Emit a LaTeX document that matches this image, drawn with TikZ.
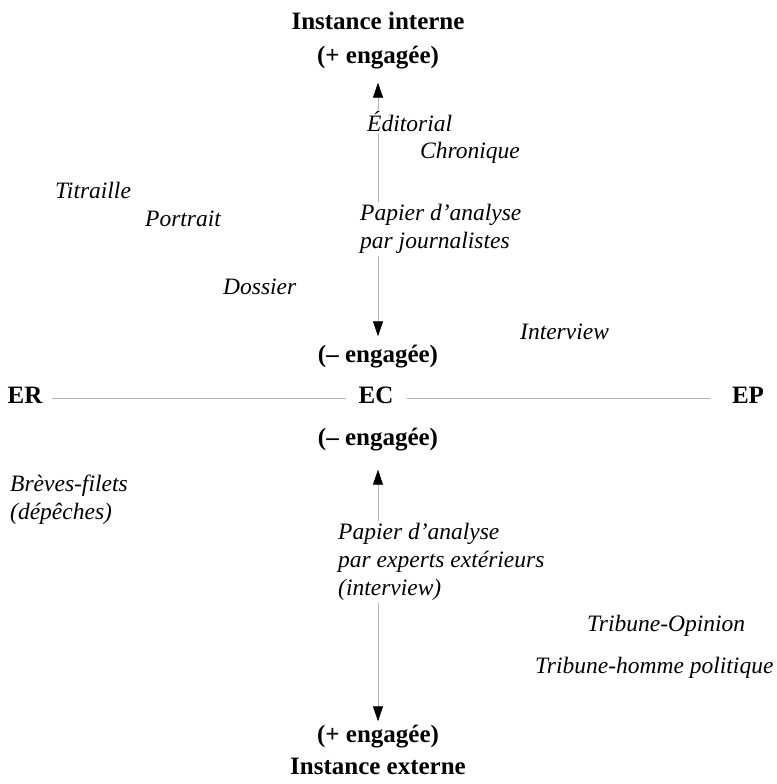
\documentclass[tikz,border=0pt]{standalone}
\usepackage{fontspec}
\setmainfont{Liberation Serif}
\usetikzlibrary{arrows.meta}

\tikzset{
  pole/.style={font=\fontsize{25}{28}\selectfont\bfseries, inner sep=0pt,
               text height=17pt, text depth=6pt},
  genre/.style={font=\fontsize{23.5}{28}\selectfont\itshape, anchor=west,
                align=left, fill=white, inner xsep=0pt, inner ysep=2pt},
  axis/.style={draw=gray!60, line width=0.7pt},
  tip/.style={axis, {Triangle[length=15pt,width=10pt,color=black]}-{Triangle[length=15pt,width=10pt,color=black]}}
}

\begin{document}
\begin{tikzpicture}[x=1pt, y=-1pt]
\useasboundingbox (0,0) rectangle (776,784);

% poles of the vertical axis
\node[pole] (int)  at (378,24)  {Instance interne};
\node[pole] (pe1)  at (378,58)  {(+ engagée)};
\node[pole] (me1)  at (378,357) {(– engagée)};
\node[pole] (me2)  at (378,440) {(– engagée)};
\node[pole] (pe2)  at (378,737) {(+ engagée)};
\node[pole] (ext)  at (378,769) {Instance externe};

% poles of the horizontal axis
\node[pole] (ER) at (25,398)  {ER};
\node[pole] (EC) at (376,398) {EC};
\node[pole] (EP) at (748,398) {EP};

% axes
\draw[axis, shorten <=9pt, shorten >=12pt] (ER) -- (EC);
\draw[axis, shorten <=13pt, shorten >=22pt] (EC) -- (EP);
\draw[tip, shorten <=13pt, shorten >=9pt] (pe1.south) -- (me1.north);
\draw[tip, shorten <=18pt, shorten >=4pt] (me2.south) -- (pe2.north);

% genres
\node[genre] (edito)  at (367,122) {Éditorial};
\node[genre] (chron)  at (420,153) {Chronique};
\node[genre] (titr)   at (55,190)  {Titraille};
\node[genre] (portr)  at (145,219) {Portrait};
\node[genre] (papj)   at (360,229) {Papier d’analyse\\par journalistes};
\node[genre] (doss)   at (223,287) {Dossier};
\node[genre] (interv) at (520,332) {Interview};
\node[genre] (breves) at (10,500)  {Brèves-filets\\(dépêches)};
\node[genre] (pape)   at (338,562) {Papier d’analyse\\par experts extérieurs\\(interview)};
\node[genre] (trop)   at (587,626) {Tribune-Opinion};
\node[genre] (trhp)   at (535,668) {Tribune-homme politique};
\end{tikzpicture}
\end{document}
